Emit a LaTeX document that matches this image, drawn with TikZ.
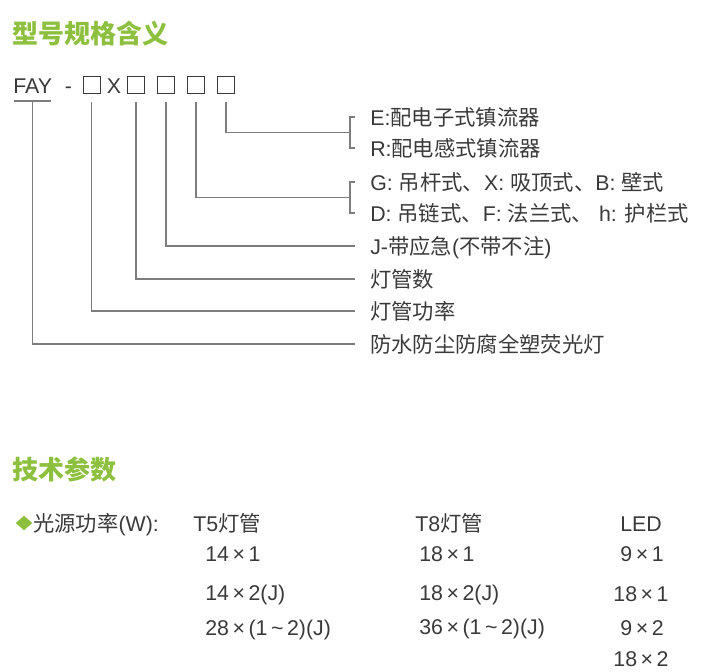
\documentclass[tikz,border=0pt]{standalone}
\usepackage{fontspec}
\setmainfont{Liberation Sans}
\newfontfamily\cjk{Noto Sans CJK SC}
\usetikzlibrary{calc,shapes.geometric}
\definecolor{lgreen}{RGB}{141,192,63}
\definecolor{txtgray}{RGB}{58,58,58}
\definecolor{lngray}{RGB}{125,125,125}
\newcommand\zh[1]{{\cjk #1}}

\begin{document}
\begin{tikzpicture}[x=0.75pt,y=-0.75pt,
    every node/.style={inner sep=0pt,text=txtgray,font=\fontsize{16}{19}\selectfont},
    head/.style={anchor=west,text=lgreen,font=\fontsize{19.5}{22}\selectfont\cjk\bfseries},
    lbl/.style={anchor=base west},
    sq/.style={draw=txtgray,line width=0.6pt,minimum size=12.75pt},
    ln/.style={draw=lngray,line width=0.8pt}]
  \useasboundingbox (0,0) rectangle (709,671);

  \node[head] (t1) at (12,34) {型号规格含义};
  \node[lbl] (fay) at (13,93) {FAY};
  \node[anchor=base] (dash) at (68.5,93) {-};
  \node[sq] (b1) at (91.5,84.5) {};
  \node[anchor=base] (x) at (114,93) {X};
  \node[sq] (b2) at (136,84.5) {};
  \node[sq] (b3) at (166,84.5) {};
  \node[sq] (b4) at (196,84.5) {};
  \node[sq] (b5) at (226,84.5) {};

  \node[lbl] (lE) at (370,125) {E:\zh{配电子式镇流器}};
  \node[lbl] (lR) at (370,156) {R:\zh{配电感式镇流器}};
  \node[lbl] (lG) at (370,190) {G: \zh{吊杆式、}X: \zh{吸顶式、}B: \zh{壁式}};
  \node[lbl] (lD) at (370,221) {D: \zh{吊链式、}F: \zh{法兰式、} h: \zh{护栏式}};
  \node[lbl] (lJ) at (370,254) {J-\zh{带应急}(\zh{不带不注})};
  \node[lbl] (lN) at (370,287) {\zh{灯管数}};
  \node[lbl] (lP) at (370,319) {\zh{灯管功率}};
  \node[lbl] (lT) at (370,352) {\zh{防水防尘防腐全塑荧光灯}};

  \draw[ln] ($(fay.base west)+(1,8)$) -- ($(fay.base east)+(-1,8)$);
  \draw[ln] ($(fay.base)+(0,8)$) |- ($(lT.base west)+(-15,-8)$);
  \draw[ln] ($(b1.south)+(0,9)$) |- ($(lP.base west)+(-15,-8)$);
  \draw[ln] ($(b2.south)+(0,9)$) |- ($(lN.base west)+(-15,-8)$);
  \draw[ln] ($(b3.south)+(0,9)$) |- ($(lJ.base west)+(-15,-8)$);
  \draw[ln] ($(b4.south)+(0,9)$) |- ($(lG.base west)!.5!(lD.base west)+(-20,-8)$);
  \draw[ln] ($(lG.base west)+(-15,-8)$) -- ++(-5,0) |- ($(lD.base west)+(-15,-8)$);
  \draw[ln] ($(b5.south)+(0,9)$) |- ($(lE.base west)!.5!(lR.base west)+(-20,-8)$);
  \draw[ln] ($(lE.base west)+(-15,-8)$) -- ++(-5,0) |- ($(lR.base west)+(-15,-8)$);

  \node[head] (t2) at (12,469) {技术参数};
  \node[diamond,fill=lgreen,minimum width=12.5pt,minimum height=11pt] (dm) at (24,523) {};
  \node[lbl] (src) at (33,531) {\zh{光源功率}(W):};

  \node[lbl] (t5) at (193,531) {T5\zh{灯管}};
  \node[lbl] (t5a) at (205,561) {14\,×\,1};
  \node[lbl] (t5b) at (205,600) {14\,×\,2(J)};
  \node[lbl] (t5c) at (205,635) {28\,×\,(1\,\textasciitilde\,2)(J)};

  \node[lbl] (t8) at (415,531) {T8\zh{灯管}};
  \node[lbl] (t8a) at (419,561) {18\,×\,1};
  \node[lbl] (t8b) at (419,600) {18\,×\,2(J)};
  \node[lbl] (t8c) at (419,634) {36\,×\,(1\,\textasciitilde\,2)(J)};

  \node[anchor=base] (led) at (641,531) {LED};
  \node[anchor=base] (leda) at (642,561) {9\,×\,1};
  \node[anchor=base] (ledb) at (641,601) {18\,×\,1};
  \node[anchor=base] (ledc) at (642,635) {9\,×\,2};
  \node[anchor=base] (ledd) at (641,666) {18\,×\,2};
\end{tikzpicture}
\end{document}
